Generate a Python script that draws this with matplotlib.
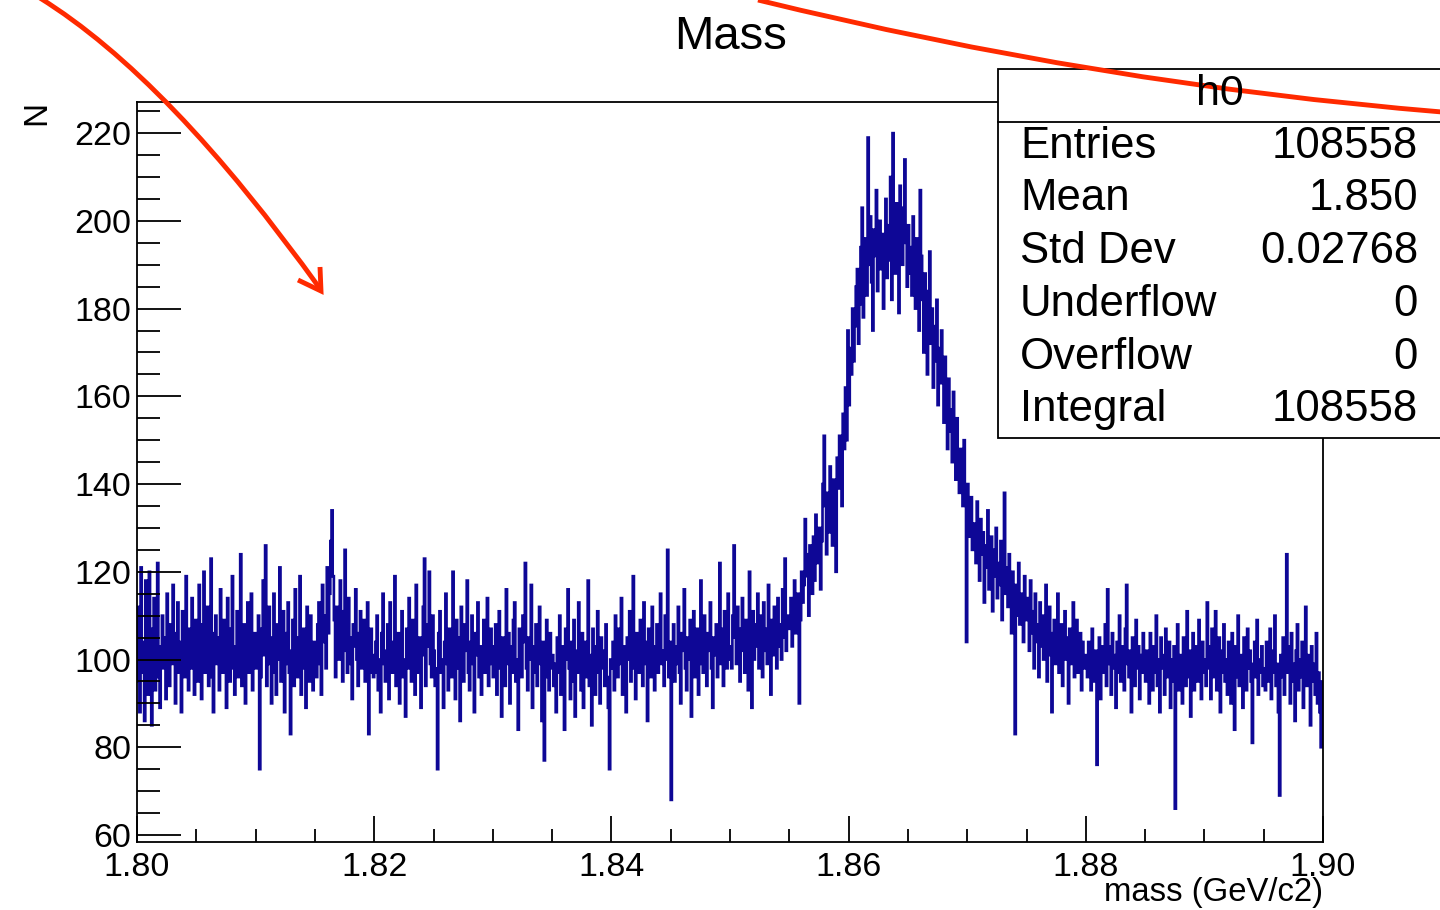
import numpy as np
import matplotlib.pyplot as plt
from matplotlib.patches import Rectangle, PathPatch
from matplotlib.path import Path
from matplotlib.ticker import MultipleLocator

plt.rcParams['font.family'] = ['Liberation Sans', 'DejaVu Sans']

# histogram h0: 1000 bins from 1.80 to 1.90 (one row = 50 bins = 0.005 GeV/c2)
x_min = 1.80
x_max = 1.90
n_bins = 1000
counts = [
    112, 95, 88, 121, 104, 97, 86, 118, 101, 92, 120, 99, 85, 107, 114, 93, 100, 122, 96, 89, 103, 110, 98, 105, 91, 115, 102, 94, 108, 99, 117, 100, 90, 106, 113, 97, 104, 88, 111, 101, 96, 119, 103, 93, 107, 98, 114, 100, 92, 109,
    104, 95, 117, 99, 91, 108, 120, 97, 103, 112, 94, 101, 123, 96, 88, 106, 110, 99, 105, 93, 116, 102, 97, 109, 100, 89, 114, 104, 95, 107, 119, 98, 92, 103, 111, 96, 101, 124, 94, 99, 108, 90, 105, 113, 97, 102, 115, 93, 100, 106,
    98, 103, 110, 75, 96, 107, 118, 101, 126, 94, 99, 112, 105, 90, 97, 115, 103, 92, 108, 100, 121, 95, 104, 111, 88, 99, 106, 113, 97, 83, 102, 109, 94, 116, 101, 96, 105, 119, 92, 100, 107, 98, 89, 112, 103, 95, 110, 99, 93, 104,
    101, 96, 108, 113, 99, 92, 117, 104, 110, 98, 121, 106, 115, 127, 134, 119, 109, 96, 112, 103, 100, 118, 107, 95, 111, 125, 102, 97, 114, 105, 99, 91, 108, 103, 116, 100, 94, 106, 111, 98, 102, 109, 95, 104, 113, 83, 97, 107, 101, 96,
    97, 104, 110, 93, 100, 88, 106, 115, 99, 95, 102, 108, 91, 113, 104, 97, 101, 119, 94, 99, 106, 90, 103, 111, 96, 100, 87, 107, 98, 114, 102, 95, 109, 100, 92, 117, 103, 97, 105, 89, 101, 112, 123, 94, 108, 103, 120, 99, 96, 110,
    102, 94, 98, 75, 106, 111, 97, 100, 89, 104, 115, 99, 93, 107, 101, 96, 120, 103, 91, 109, 98, 105, 86, 112, 100, 95, 108, 102, 118, 97, 93, 104, 110, 99, 88, 106, 101, 113, 96, 103, 92, 100, 109, 97, 105, 114, 94, 99, 107, 101,
    96, 103, 108, 92, 100, 111, 98, 87, 105, 101, 94, 116, 99, 106, 90, 103, 97, 109, 113, 95, 100, 84, 107, 102, 96, 110, 104, 122, 98, 93, 105, 100, 117, 89, 103, 97, 108, 94, 101, 112, 99, 86, 104, 77, 96, 109, 100, 93, 106, 98,
    101, 94, 99, 88, 105, 97, 110, 92, 103, 96, 84, 107, 100, 116, 98, 91, 104, 95, 109, 87, 102, 97, 113, 99, 93, 106, 89, 100, 104, 96, 118, 94, 101, 85, 107, 99, 92, 103, 111, 97, 90, 105, 98, 102, 94, 108, 96, 89, 75, 100,
    98, 104, 93, 110, 101, 96, 107, 99, 114, 92, 103, 97, 88, 105, 100, 111, 95, 102, 119, 98, 91, 106, 103, 97, 109, 100, 94, 113, 104, 99, 86, 107, 101, 96, 112, 103, 93, 100, 108, 97, 105, 115, 99, 102, 94, 110, 100, 125, 96, 104,
    68, 101, 108, 95, 103, 99, 112, 97, 90, 106, 102, 116, 98, 93, 105, 100, 109, 87, 104, 111, 96, 101, 107, 92, 99, 118, 103, 97, 110, 100, 94, 106, 102, 113, 98, 89, 105, 101, 108, 96, 103, 122, 99, 107, 94, 111, 102, 98, 115, 100,
    103, 98, 110, 126, 105, 99, 112, 101, 95, 107, 114, 102, 97, 109, 104, 93, 120, 106, 89, 111, 100, 108, 103, 115, 98, 105, 110, 96, 113, 102, 107, 99, 117, 104, 92, 109, 101, 112, 106, 98, 114, 103, 108, 100, 116, 105, 123, 102, 110, 107,
    108, 114, 103, 111, 118, 106, 112, 115, 90, 109, 120, 113, 117, 132, 124, 119, 110, 126, 121, 115, 128, 118, 133, 122, 125, 130, 116, 127, 140, 151, 135, 124, 138, 129, 144, 133, 126, 141, 137, 120, 146, 139, 151, 143, 135, 156, 148, 162, 150, 175,
    158, 171, 165, 180, 168, 176, 185, 189, 172, 181, 194, 203, 178, 188, 196, 183, 219, 190, 201, 186, 175, 198, 192, 207, 184, 195, 200, 189, 197, 180, 193, 205, 187, 199, 191, 210, 182, 220, 196, 188, 204, 192, 179, 208, 198, 190, 203, 214, 195, 185,
    199, 188, 194, 183, 201, 190, 180, 196, 186, 175, 207, 192, 182, 170, 188, 178, 165, 184, 193, 172, 180, 162, 176, 168, 182, 158, 171, 163, 175, 166, 154, 169, 160, 148, 164, 152, 157, 145, 161, 150, 141, 155, 147, 138, 148, 143, 135, 150, 139, 104,
    140, 133, 128, 137, 125, 131, 130, 122, 136, 127, 118, 132, 124, 129, 113, 126, 121, 134, 116, 123, 128, 111, 125, 119, 130, 114, 122, 117, 127, 109, 120, 138, 115, 121, 112, 124, 118, 106, 120, 113, 83, 117, 110, 122, 108, 115, 112, 104, 119, 111,
    109, 114, 102, 118, 106, 111, 98, 115, 104, 108, 96, 113, 103, 110, 100, 107, 117, 95, 105, 112, 101, 88, 106, 109, 99, 104, 115, 97, 102, 108, 94, 103, 111, 100, 105, 90, 107, 99, 104, 113, 96, 102, 109, 97, 101, 106, 93, 104, 100, 98,
    101, 96, 104, 99, 93, 107, 100, 95, 102, 76, 98, 105, 91, 103, 97, 100, 108, 94, 116, 99, 103, 92, 106, 98, 101, 89, 104, 97, 110, 95, 100, 103, 93, 107, 117, 99, 96, 102, 88, 105, 100, 94, 109, 98, 103, 91, 101, 97, 106, 99,
    95, 102, 98, 90, 106, 99, 93, 103, 97, 110, 94, 100, 88, 105, 98, 101, 92, 107, 96, 99, 104, 89, 100, 95, 103, 66, 98, 108, 93, 101, 97, 90, 105, 99, 94, 111, 96, 102, 87, 100, 106, 93, 98, 103, 95, 109, 99, 91, 104, 97,
    100, 94, 113, 98, 103, 91, 107, 96, 101, 111, 93, 99, 105, 88, 102, 97, 108, 95, 100, 92, 104, 98, 90, 106, 99, 84, 103, 96, 110, 94, 101, 97, 89, 105, 100, 93, 107, 98, 102, 95, 81, 99, 104, 96, 109, 92, 100, 97, 103, 94,
    98, 93, 104, 100, 95, 107, 91, 102, 97, 110, 94, 99, 88, 69, 101, 96, 105, 92, 100, 124, 97, 103, 90, 106, 95, 99, 86, 102, 108, 93, 100, 96, 104, 89, 98, 112, 94, 101, 97, 85, 103, 95, 99, 92, 106, 90, 97, 88, 80, 95,
]

stats_labels = ["Entries", "Mean", "Std Dev", "Underflow", "Overflow", "Integral"]
stats_values = ["108558", "1.850", "0.02768", "0", "0", "108558"]

W, H = 1440, 910


def fx(px):
    return px / W


def fy(py):
    return 1 - py / H


fig = plt.figure(figsize=(14.4, 9.1), dpi=100)
ax = fig.add_axes([fx(137), fy(842), fx(1323) - fx(137), fy(102) - fy(842)])

edges = np.linspace(x_min, x_max, n_bins + 1)
ax.stairs(counts, edges, color="#0e0796", lw=1.9, baseline=None)

ax.set_xlim(x_min, x_max)
ax.set_ylim(58.4, 227.1)
ax.xaxis.set_major_locator(MultipleLocator(0.02))
ax.xaxis.set_minor_locator(MultipleLocator(0.005))
ax.yaxis.set_major_locator(MultipleLocator(20))
ax.yaxis.set_minor_locator(MultipleLocator(5))
ax.xaxis.set_major_formatter(plt.FuncFormatter(lambda v, p: "%.2f" % v))
ax.tick_params(axis="x", which="major", direction="in", length=19, width=1.3, labelsize=24.5, pad=7)
ax.tick_params(axis="x", which="minor", direction="in", length=9.5, width=1.3)
ax.tick_params(axis="y", which="major", direction="in", length=32, width=1.3, labelsize=24.5, pad=4)
ax.tick_params(axis="y", which="minor", direction="in", length=16.5, width=1.3)
for s in ax.spines.values():
    s.set_linewidth(1.3)

fig.text(fx(731), fy(37), "Mass", fontsize=34, ha="center", va="center")
fig.text(fx(1323), fy(892), "mass (GeV/c2)", fontsize=23.7, ha="right", va="center")
fig.text(fx(37), fy(113), "N", fontsize=24, ha="center", va="center", rotation=90)

# stats box
fig.add_artist(Rectangle((fx(998), fy(438)), fx(1445) - fx(998), fy(69) - fy(438),
                         transform=fig.transFigure, facecolor="white", edgecolor="black", lw=1.3))
fig.add_artist(plt.Line2D([fx(998), 1.0], [fy(122), fy(122)], transform=fig.transFigure, color="black", lw=1.3))
fig.text(fx(1220), fy(94), "h0", fontsize=31, ha="center", va="center")
for i, (lab, val) in enumerate(zip(stats_labels, stats_values)):
    y = fy(146 + 52.8 * i)
    fig.text(fx(1020), y, lab, fontsize=31.5, ha="left", va="center")
    fig.text(fx(1418), y, val, fontsize=31.5, ha="right", va="center")

# red annotation marks on the screenshot
red = "#ff2a00"
arrow = Path([(fx(40), fy(-2)), (fx(169), fy(78)), (fx(321), fy(290))],
             [Path.MOVETO, Path.CURVE3, Path.CURVE3])
fig.add_artist(PathPatch(arrow, transform=fig.transFigure, fill=False, edgecolor=red, lw=3.5))
head = Path([(fx(298), fy(280)), (fx(321), fy(291)), (fx(320), fy(267))],
            [Path.MOVETO, Path.LINETO, Path.LINETO])
fig.add_artist(PathPatch(head, transform=fig.transFigure, fill=False, edgecolor=red, lw=3.5,
                         joinstyle="miter", capstyle="butt"))
stroke = Path([(fx(758), fy(0)), (fx(1100), fy(84)), (fx(1442), fy(112))],
              [Path.MOVETO, Path.CURVE3, Path.CURVE3])
fig.add_artist(PathPatch(stroke, transform=fig.transFigure, fill=False, edgecolor=red, lw=3.5))

fig.savefig("out.png", dpi=100)
